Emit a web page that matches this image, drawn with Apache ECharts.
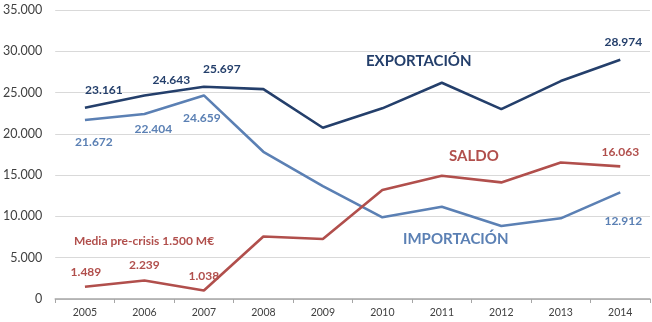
<!DOCTYPE html>
<html><head><meta charset="utf-8">
<script src="https://cdn.jsdelivr.net/npm/echarts@6/dist/echarts.min.js"></script>
<style>html,body{margin:0;padding:0;background:#fff}#c{width:652px;height:322px}</style>
</head><body><div id="c"></div>
<script>
const years = ['2005','2006','2007','2008','2009','2010','2011','2012','2013','2014'];
const exportacion = [23161, 24643, 25697, 25420, 20740, 23090, 26190, 23000, 26390, 28974];
const importacion = [21672, 22404, 24659, 17830, 13680, 9890, 11170, 8840, 9770, 12912];
const saldo = [1489, 2239, 1038, 7560, 7260, 13190, 14930, 14120, 16540, 16063];
const yTicks = [0, 5000, 10000, 15000, 20000, 25000, 30000, 35000];

// label offsets for labelled points (index -> [dx, dy])
const expLabels = {0:[19,-18], 1:[27,-15], 2:[18,-18], 9:[3,-18]};
const impLabels = {0:[9,22], 1:[9,15], 2:[-2,23], 9:[3,29]};
const salLabels = {0:[1,-15], 1:[0,-15], 2:[0,-14], 9:[0,-14]};

const fmt = v => v.toLocaleString('de-DE');
const FONT = 'Lato, "Open Sans", sans-serif';

function build(vals, labels, color) {
  return vals.map((v, i) => {
    if (labels[i]) {
      return {value: v, label: {show: true, position: 'inside', offset: labels[i],
        formatter: fmt(v), color: color, fontWeight: 'bold', fontSize: 12, fontFamily: FONT}};
    }
    return {value: v};
  });
}

const cExp = '#243f6b', cImp = '#5b80b4', cSal = '#b14f4c';
function series(name, vals, labels, color) {
  return {
    name, type: 'line', data: build(vals, labels, color),
    symbol: 'circle', symbolSize: 1, showSymbol: true,
    itemStyle: {color: 'rgba(0,0,0,0)', borderWidth: 0},
    lineStyle: {color: color, width: 2.6}, label: {show: false},
    emphasis: {disabled: true}, animation: false
  };
}

const chart = echarts.init(document.getElementById('c'));
chart.setOption({
  animation: false,
  grid: {left: 53, right: 2, top: 10, bottom: 23},
  xAxis: {
    type: 'category', data: years, boundaryGap: true,
    axisLine: {lineStyle: {color: '#a6a6a6', width: 1.5}},
    axisTick: {show: true, length: 4, lineStyle: {color: '#a6a6a6'}},
    axisLabel: {color: '#404040', fontSize: 10.5, fontFamily: FONT, margin: 8}
  },
  yAxis: {
    type: 'value', min: 0, max: 35000, interval: 5000,
    axisLine: {show: false}, axisTick: {show: false},
    splitLine: {lineStyle: {color: '#d9d9d9', width: 1.2}},
    axisLabel: {color: '#404040', fontSize: 12.5, fontFamily: FONT, margin: 13,
      formatter: v => yTicks.includes(v) ? fmt(v) : ''}
  },
  series: [
    series('EXPORTACIÓN', exportacion, expLabels, cExp),
    series('IMPORTACIÓN', importacion, impLabels, cImp),
    series('SALDO', saldo, salLabels, cSal)
  ],
  graphic: [
    {type: 'text', left: 366, top: 54, style: {text: 'EXPORTACIÓN', fill: cExp, font: 'bold 15px ' + FONT}},
    {type: 'text', left: 449, top: 149, style: {text: 'SALDO', fill: cSal, font: 'bold 15px ' + FONT}},
    {type: 'text', left: 403, top: 232, style: {text: 'IMPORTACIÓN', fill: cImp, font: 'bold 15px ' + FONT}},
    {type: 'text', left: 74, top: 235, style: {text: 'Media pre-crisis 1.500 M€', fill: cSal, font: 'bold 12px ' + FONT}}
  ]
});
</script></body></html>
